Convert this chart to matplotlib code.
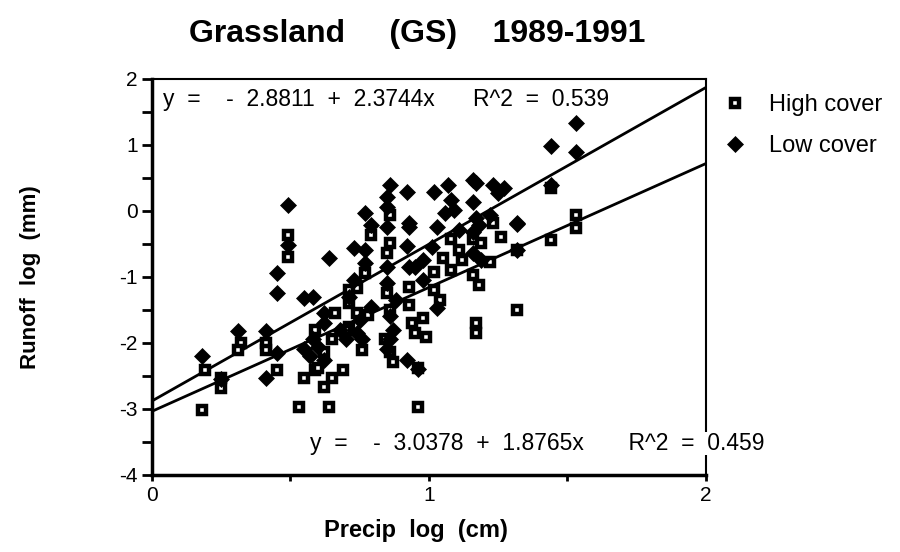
import numpy as np
import matplotlib
matplotlib.use("Agg")
import matplotlib.pyplot as plt
from matplotlib.ticker import MultipleLocator

plt.rcParams['font.family'] = ['Liberation Sans', 'DejaVu Sans']
plt.rcParams['axes.unicode_minus'] = False

# High cover (squares)
high_x = [0.18, 0.19, 0.25, 0.25, 0.32, 0.31, 0.41, 0.41, 0.45, 0.49, 0.49, 0.53,
          0.55, 0.59, 0.62, 0.65, 0.69, 0.64, 0.62, 0.65, 0.59, 0.71, 0.71, 0.74,
          0.76, 0.85, 0.87, 0.96, 0.96, 0.93, 0.94, 0.98, 0.95, 0.99, 0.86, 0.79,
          0.86, 0.85, 0.77, 0.74, 0.71, 0.78, 0.86, 0.93, 0.60, 1.08, 1.16, 1.19,
          1.23, 1.26, 1.22, 1.18, 1.16, 1.08, 1.05, 1.02, 1.02, 1.04, 1.17, 1.17,
          1.32, 1.44, 1.53, 1.53, 1.44, 1.32, 0.66, 0.70, 1.11, 1.12, 0.84, 0.86]
high_y = [-3.02, -2.41, -2.68, -2.53, -2.00, -2.11, -2.00, -2.11, -2.41, -0.36, -0.70, -2.97,
          -2.53, -2.41, -2.67, -2.53, -2.41, -2.97, -2.14, -1.95, -1.80, -1.20, -1.76, -1.55,
          -2.11, -1.24, -2.29, -2.97, -2.38, -1.42, -1.70, -1.62, -1.85, -1.91, -0.06, -0.36,
          -0.48, -0.64, -0.94, -1.17, -1.39, -1.58, -1.50, -1.15, -2.38, -0.42, -0.42, -0.48,
          -0.18, -0.39, -0.77, -1.12, -0.97, -0.89, -0.71, -0.92, -1.20, -1.35, -1.70, -1.85,
          -1.50, 0.35, -0.06, -0.26, -0.44, -0.59, -1.55, -1.80, -0.60, -0.74, -1.95, -2.14]

# Low cover (diamonds)
low_x = [0.49, 0.49, 0.45, 0.45, 0.55, 0.18, 0.31, 0.41, 0.45, 0.41, 0.73, 0.85,
         0.86, 0.92, 0.85, 0.85, 0.77, 0.79, 0.85, 0.93, 0.73, 0.77, 0.92, 0.64,
         0.77, 0.85, 0.93, 0.71, 0.79, 0.75, 0.86, 0.87, 0.86, 0.62, 0.58, 0.62,
         0.60, 0.62, 0.92, 1.02, 1.07, 1.16, 1.17, 1.23, 1.27, 1.25, 1.16, 1.32,
         1.22, 1.17, 1.06, 1.03, 1.18, 1.16, 0.93, 1.01, 0.98, 0.95, 1.16, 0.98,
         1.19, 1.53, 1.44, 1.53, 1.44, 1.32, 1.03, 0.55, 0.58, 0.68, 0.70, 0.74,
         0.76, 0.85, 0.88, 0.57, 1.11, 1.09, 1.08, 0.96, 1.32, 0.25]
low_y = [0.09, -0.52, -0.94, -1.24, -1.32, -2.20, -1.82, -1.82, -2.15, -2.53, -1.05, -1.09,
         0.39, 0.29, 0.21, 0.06, -0.03, -0.21, -0.24, -0.24, -0.56, -0.59, -0.53, -0.71,
         -0.79, -0.85, -0.85, -1.30, -1.45, -1.65, -1.60, -1.80, -1.95, -1.55, -1.30, -1.70,
         -2.06, -2.26, -2.26, 0.29, 0.39, 0.47, 0.42, 0.39, 0.35, 0.27, 0.14, -0.18,
         -0.06, -0.11, -0.03, -0.24, -0.21, -0.32, -0.18, -0.55, -0.74, -0.85, -0.64, -1.05,
         -0.74, 1.33, 0.98, 0.89, 0.39, -0.20, -1.47, -2.10, -1.95, -1.80, -1.95, -1.85,
         -1.95, -2.10, -1.35, -2.20, -0.29, 0.02, 0.17, -2.40, -0.60, -2.55]

# regression fits
high_a, high_b = -3.0378, 1.8765
low_a, low_b = -2.8811, 2.3744

fig = plt.figure(figsize=(9, 5.52), dpi=100)
ax = fig.add_axes([0.169, 0.14, 0.615, 0.717])

xl = np.array([0, 2])
ax.plot(xl, low_a + low_b * xl, color='black', lw=2, zorder=2)
ax.plot(xl, high_a + high_b * xl, color='black', lw=2, zorder=2)

ax.plot(high_x, high_y, ls='none', marker='s', ms=5.5, mfc='white', mec='black',
        mew=3.2, label='High cover', zorder=3)
ax.plot(low_x, low_y, ls='none', marker='D', ms=8.5, mfc='black', mec='black',
        mew=0.5, label='Low cover', zorder=4)

ax.set_xlim(0, 2)
ax.set_ylim(-4, 2)
ax.xaxis.set_major_locator(MultipleLocator(1))
ax.xaxis.set_minor_locator(MultipleLocator(0.5))
ax.yaxis.set_major_locator(MultipleLocator(1))
ax.yaxis.set_minor_locator(MultipleLocator(0.5))
ax.tick_params(which='both', direction='out', width=2, labelsize=15)
ax.tick_params(axis='y', which='both', length=7)
ax.tick_params(axis='x', which='both', length=4.5)
ax.tick_params(top=False, right=False)

for s in ['left', 'bottom']:
    ax.spines[s].set_linewidth(2.5)
for s in ['top', 'right']:
    ax.spines[s].set_linewidth(1.5)

ax.text(0.02, 0.947, 'y  =    -  2.8811  +  2.3744x      R^2  =  0.539', transform=ax.transAxes,
        fontsize=16.5, va='center', ha='left')
ax.text(0.285, 0.08, 'y  =    -  3.0378  +  1.8765x       R^2  =  0.459', transform=ax.transAxes,
        fontsize=16.5, va='center', ha='left', zorder=5,
        bbox=dict(facecolor='white', edgecolor='none', pad=0))

ax.set_xlabel('Precip  log  (cm)', fontsize=17, fontweight='bold', va='center')
ax.xaxis.set_label_coords(0.476, -0.142)
ax.set_ylabel('Runoff  log  (mm)', fontsize=16, fontweight='bold', va='center')
ax.yaxis.set_label_coords(-0.22, 0.5)
fig.text(0.463, 0.924, 'Grassland     (GS)    1989-1991', fontsize=23, fontweight='bold',
         ha='center', va='baseline')

ax.legend(loc='upper left', bbox_to_anchor=(0.99, 1.015), frameon=False, fontsize=17,
          handletextpad=0.8, labelspacing=0.8, handlelength=1.2)

fig.savefig('out.png', dpi=100)
